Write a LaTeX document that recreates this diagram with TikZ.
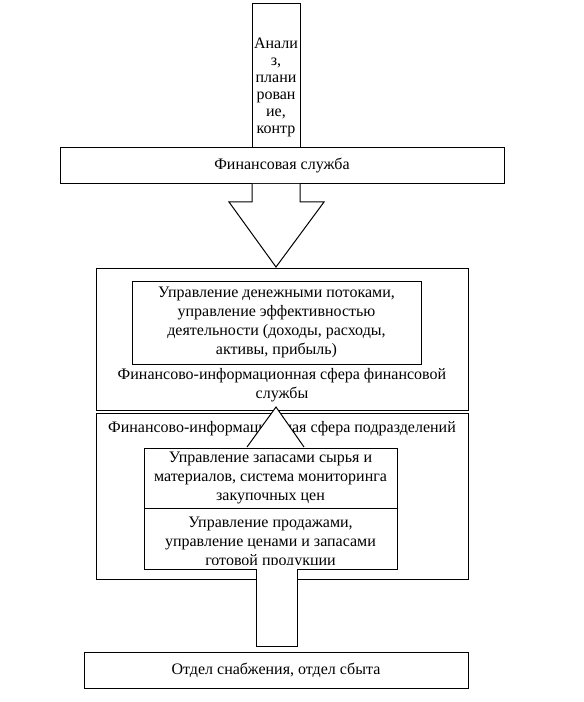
\documentclass[tikz,border=0pt]{standalone}
\usepackage{fontspec}
\setmainfont{Liberation Serif}
\tikzset{
 box/.style={draw, fill=white, line width=0.75pt, inner sep=0pt, outer sep=0pt},
 txt/.style={align=center, inner sep=0pt, font=\fontsize{12}{14.25}\selectfont},
}
\begin{document}
\begin{tikzpicture}[x=0.75pt,y=-0.75pt, line width=0.75pt]
\useasboundingbox[fill=white] (0,0) rectangle (584,702);
% top narrow box
\node[box, minimum width={48*0.75pt}, minimum height={144*0.75pt}] (anal) at (276,76) {};
\node[txt, font=\fontsize{12}{12.75}\selectfont] (analtxt) at (276,87) {Анали\\з,\\плани\\рован\\ие,\\контр};
% financial service
\node[box, txt, minimum width={444*0.75pt}, minimum height={36*0.75pt}] (fin) at (282,166) {Финансовая служба};
% block arrow down
\draw[fill=white] (252,184) -- (252,202) -- (229,202) -- (276,267) -- (324,202) -- (300,202) -- (300,184);
% sphere 1
\node[box, minimum width={372*0.75pt}, minimum height={142*0.75pt}] (sf1) at (282,339) {};
\node[box, txt, minimum width={289*0.75pt}, minimum height={83*0.75pt}] (cash) at (276.5,322.5) {Управление денежными потоками,\\управление эффективностью\\деятельности (доходы, расходы,\\активы, прибыль)};
\node[txt] (sf1lbl) at (282,385.5) {Финансово-информационная сфера финансовой\\службы};
% sphere 2
\node[box, minimum width={372*0.75pt}, minimum height={166*0.75pt}] (sf2) at (282,496) {};
\node[txt] (sf2lbl) at (282,429) {Финансово-информационная сфера подразделений};
% up triangle
\fill[white] (247,447) -- (276,407) -- (304,447) -- cycle;
\draw (247,447) -- (276,407) -- (304,447);
% inner boxes
\node[box, txt, minimum width={253*0.75pt}, minimum height={60*0.75pt}] (supply) at (270.5,478) {Управление запасами сырья и\\материалов, система мониторинга\\закупочных цен};
\node[box, minimum width={253*0.75pt}, minimum height={61*0.75pt}] (sales) at (270.5,538.5) {};
\begin{scope}
\clip (144,509) rectangle (397,564);
\node[txt] (salestxt) at (270.5,543) {Управление продажами,\\управление ценами и запасами\\готовой продукции};
\end{scope}
% stem
\draw[fill=white] (256,569) -- (256,646) -- (297,646) -- (297,569);
% bottom
\node[box, txt, minimum width={384*0.75pt}, minimum height={36*0.75pt}] (dept) at (276,670) {Отдел снабжения, отдел сбыта};
\end{tikzpicture}
\end{document}
